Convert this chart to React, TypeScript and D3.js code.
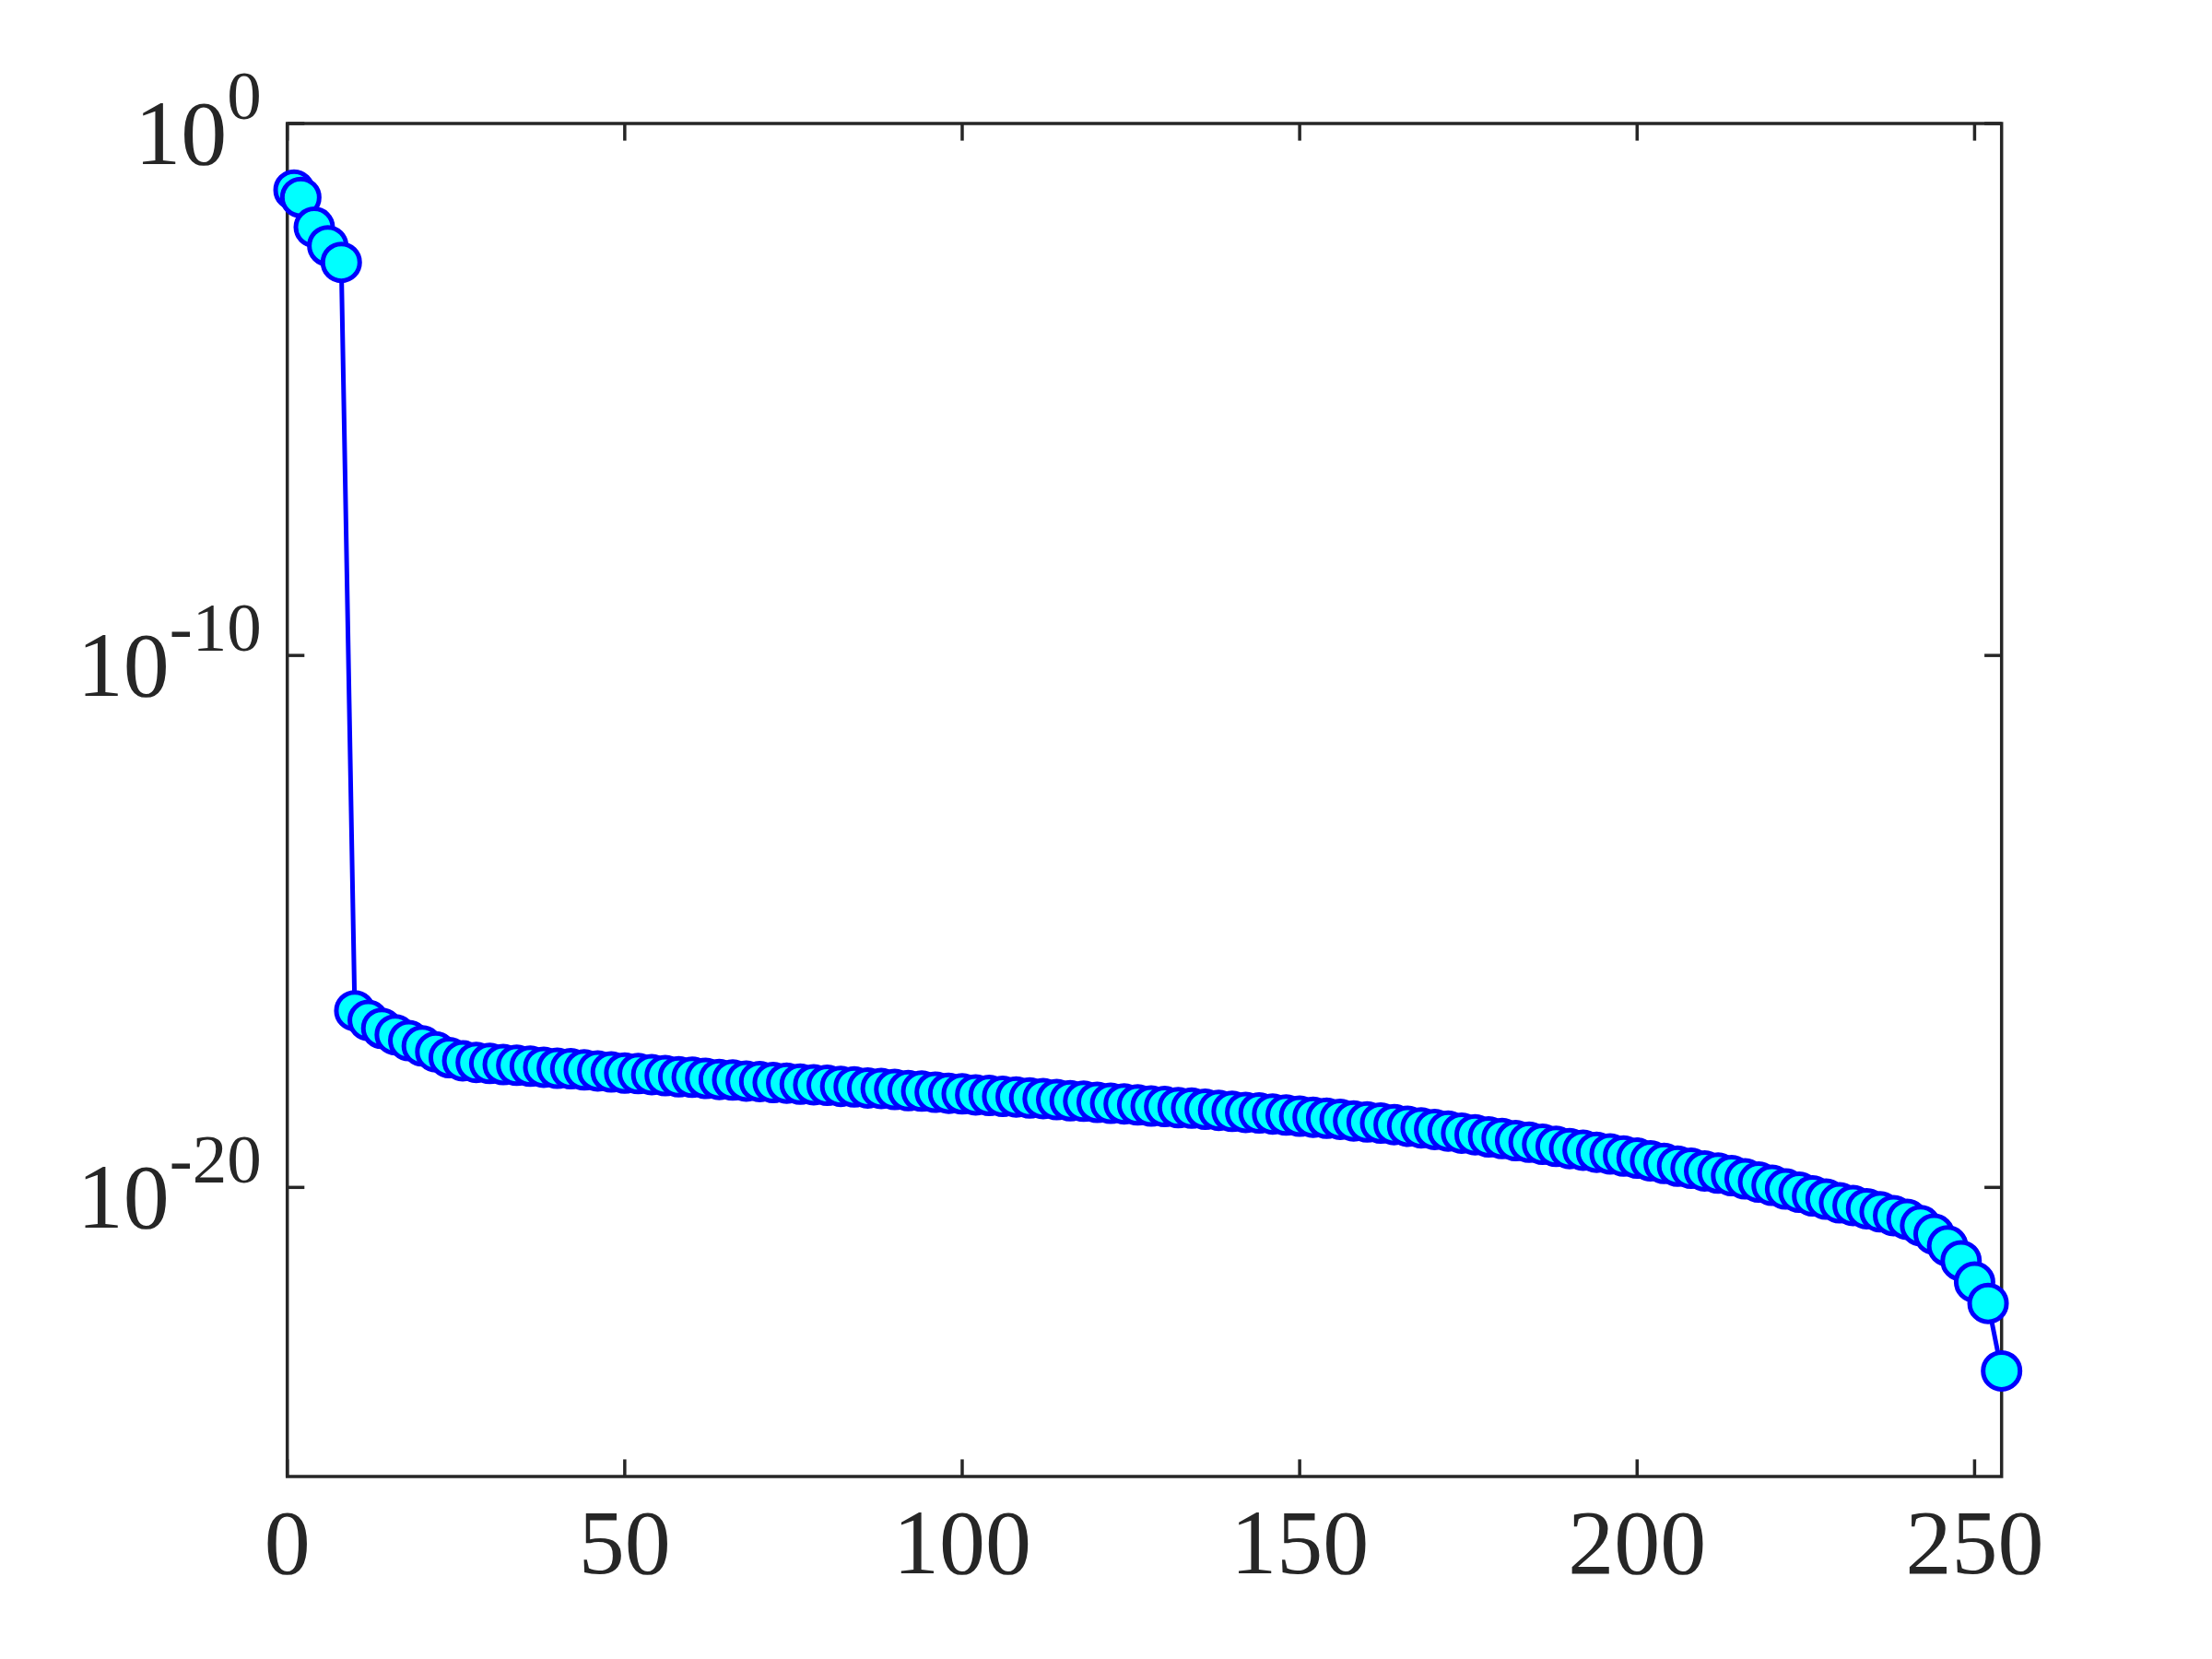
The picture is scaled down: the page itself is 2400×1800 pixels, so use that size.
import React from 'react';
import * as d3 from 'd3';

// index of each singular value (x axis)
const xIndex = [1, 2, 4, 6, 8, 10, 12, 14, 16, 18, 20, 22, 24, 26, 28, 30, 32, 34, 36, 38, 40,
  42, 44, 46, 48, 50, 52, 54, 56, 58, 60, 62, 64, 66, 68, 70, 72, 74, 76, 78, 80,
  82, 84, 86, 88, 90, 92, 94, 96, 98, 100, 102, 104, 106, 108, 110, 112, 114, 116, 118, 120,
  122, 124, 126, 128, 130, 132, 134, 136, 138, 140, 142, 144, 146, 148, 150, 152, 154, 156, 158, 160,
  162, 164, 166, 168, 170, 172, 174, 176, 178, 180, 182, 184, 186, 188, 190, 192, 194, 196, 198, 200,
  202, 204, 206, 208, 210, 212, 214, 216, 218, 220, 222, 224, 226, 228, 230, 232, 234, 236, 238, 240,
  242, 244, 246, 248, 250, 252, 254];

// log10 of each value
const valueExp = [-1.25, -1.39, -1.95, -2.30, -2.61, -16.68, -16.86, -17.01, -17.13, -17.24, -17.34,
  -17.45, -17.56, -17.62, -17.65, -17.67, -17.69, -17.705, -17.72, -17.74, -17.76,
  -17.77, -17.79, -17.81, -17.83, -17.85, -17.86, -17.88, -17.90, -17.92, -17.93,
  -17.95, -17.97, -17.98, -18.00, -18.01, -18.03, -18.04, -18.06, -18.07, -18.08,
  -18.10, -18.11, -18.13, -18.14, -18.16, -18.18, -18.19, -18.21, -18.23, -18.24,
  -18.26, -18.27, -18.29, -18.30, -18.32, -18.33, -18.35, -18.37, -18.38, -18.40,
  -18.42, -18.43, -18.45, -18.47, -18.48, -18.50, -18.51, -18.53, -18.55, -18.57,
  -18.59, -18.60, -18.62, -18.64, -18.66, -18.68, -18.70, -18.72, -18.75, -18.77,
  -18.79, -18.82, -18.85, -18.88, -18.91, -18.94, -18.98, -19.01, -19.05, -19.08,
  -19.12, -19.15, -19.19, -19.23, -19.27, -19.30, -19.34, -19.37, -19.41, -19.45,
  -19.50, -19.55, -19.60, -19.64, -19.69, -19.73, -19.78, -19.84, -19.90, -19.96,
  -20.03, -20.09, -20.16, -20.22, -20.29, -20.34, -20.40, -20.46, -20.53, -20.60,
  -20.72, -20.88, -21.10, -21.38, -21.78, -22.18, -23.45];

const xTicks = [0, 50, 100, 150, 200, 250];
const yTickExps = [0, -10, -20];

export default function App() {
  const W = 2400, H = 1800;
  const left = 311.7, right = 2171.7, top = 134, bottom = 1602;
  const x = d3.scaleLinear().domain([0, 254]).range([left, right]);
  const y = d3.scaleLog().domain([Math.pow(10, -25.435), 1]).range([bottom, top]);
  const pts: [number, number][] = xIndex.map((xi, i) => [x(xi), y(Math.pow(10, valueExp[i]))]);
  const path = d3.line()(pts) || '';
  const tl = 18.6;
  const axisColor = '#262626';
  const font = "'Liberation Serif', 'Times New Roman', serif";

  return (
    <svg width={W} height={H} style={{ position: 'absolute', left: 0, top: 0, background: '#fff' }}>
      <rect x={0} y={0} width={W} height={H} fill="#fff" />
      {/* ticks */}
      <g stroke={axisColor} strokeWidth={3.5}>
        {xTicks.map(t => (
          <g key={'xt' + t}>
            <line x1={x(t)} x2={x(t)} y1={bottom} y2={bottom - tl} />
            <line x1={x(t)} x2={x(t)} y1={top} y2={top + tl} />
          </g>
        ))}
        {yTickExps.map(e => (
          <g key={'yt' + e}>
            <line x1={left} x2={left + tl} y1={y(Math.pow(10, e))} y2={y(Math.pow(10, e))} />
            <line x1={right} x2={right - tl} y1={y(Math.pow(10, e))} y2={y(Math.pow(10, e))} />
          </g>
        ))}
      </g>
      <rect x={left} y={top} width={right - left} height={bottom - top} fill="none" stroke={axisColor} strokeWidth={3.5} />
      {/* tick labels */}
      <g fill={axisColor} fontFamily={font}>
        {xTicks.map(t => (
          <text key={'xl' + t} x={x(t)} y={1707} fontSize={100} textAnchor="middle">{t}</text>
        ))}
        {yTickExps.map(e => (
          <text key={'yl' + e} x={left - 28} y={y(Math.pow(10, e)) + 44} fontSize={100} textAnchor="end">
            10<tspan dy={-49} fontSize={75}>{e === 0 ? '0' : '-' + Math.abs(e)}</tspan>
          </text>
        ))}
      </g>
      {/* data */}
      <path d={path} fill="none" stroke="#0000ff" strokeWidth={5} strokeLinejoin="round" />
      {pts.map((p, i) => (
        <circle key={'m' + i} cx={p[0]} cy={p[1]} r={20} fill="#00ffff" stroke="#0000ff" strokeWidth={5} />
      ))}
    </svg>
  );
}
